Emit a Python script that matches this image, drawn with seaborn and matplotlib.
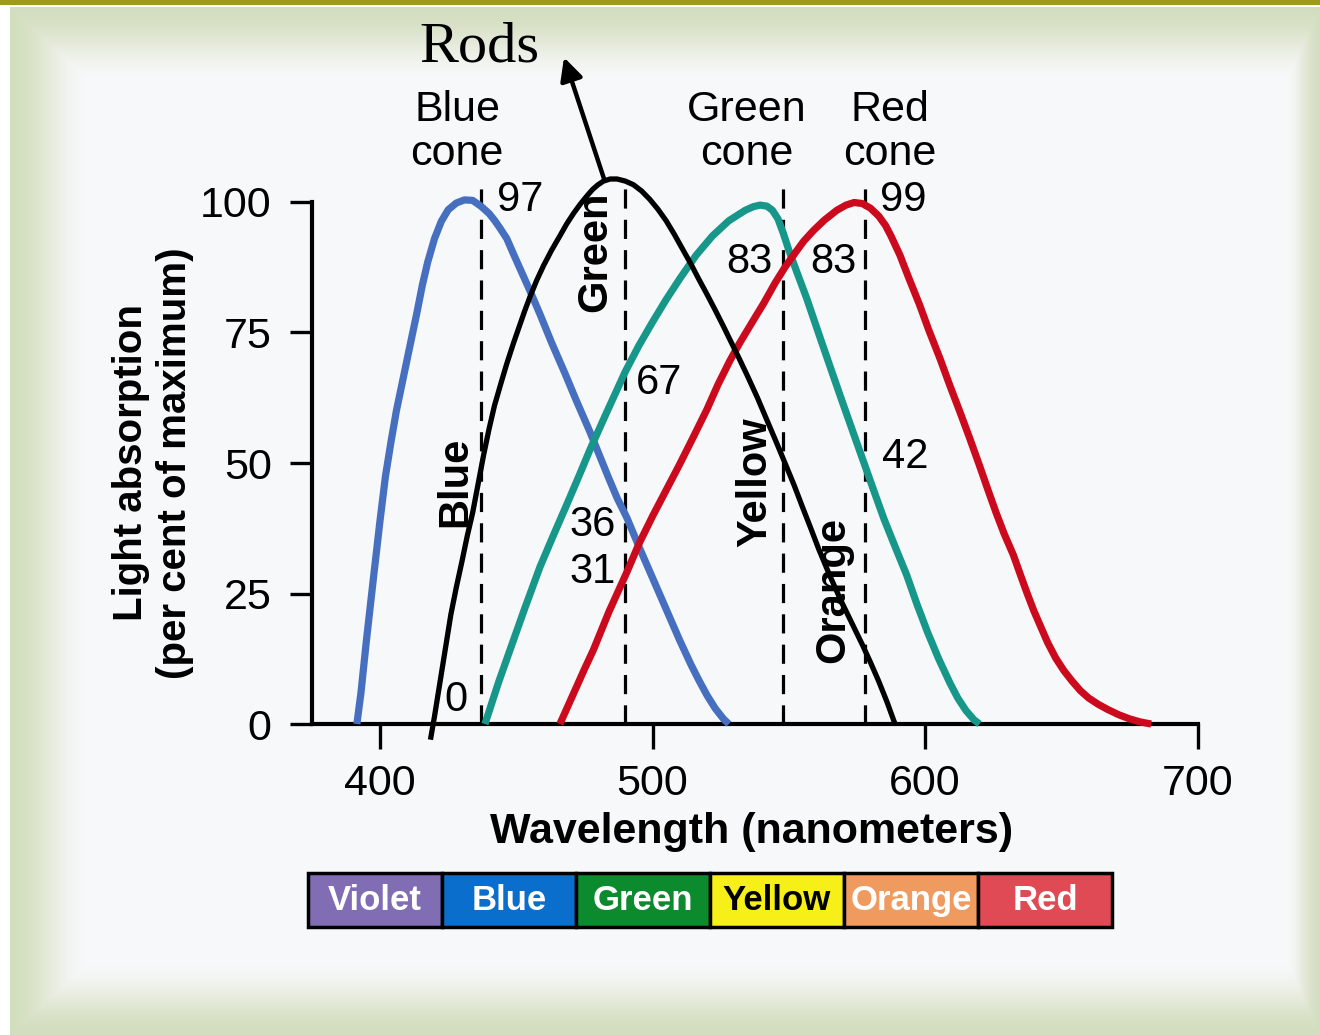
import numpy as np
import matplotlib
matplotlib.use("Agg")
import matplotlib.pyplot as plt
import seaborn as sns

# Absorption curves: wavelength (nm) vs % of maximum
blue_nm = [391.5, 393, 395, 397.5, 400, 402, 404, 406, 408.4, 411, 413.5, 415.5, 417.5, 420,
           422.5, 425, 428, 431, 434, 437, 440, 442, 444, 446.5, 449, 452, 455, 458.7, 463,
           468, 472, 477, 480.5, 484, 487, 490.6, 495, 500, 505, 510, 514, 517, 520, 523,
           526, 528]
blue_abs = [0, 6, 16, 27.6, 39, 47.5, 54, 60, 66, 72.5, 78.7, 84, 88.5, 93,
            96.3, 98.5, 99.8, 100.4, 100.3, 99.2, 97.8, 96.5, 95, 93, 90, 86.5, 83, 78.5, 73,
            67, 62, 56, 51.5, 47, 43.3, 39.5, 34, 28, 22, 16, 11.5, 8.4, 5.5, 3,
            1, 0]

green_nm = [438.5, 441, 443.5, 447.7, 453, 458.7, 463.5, 468.5, 473, 477, 483, 490, 495, 500,
            505, 510, 516, 522, 528, 534, 537, 539.5, 542, 544, 546, 548, 550, 552.3, 556.6,
            561.5, 566, 570, 574, 577.2, 581, 585, 589, 593.3, 597, 601, 605, 609.2, 612,
            615, 618, 620]
green_abs = [0, 4, 8, 14.2, 22, 30.1, 36, 42, 47.5, 52.5, 59.5, 67.5, 72.5, 77,
             81.3, 85.3, 89.8, 93.5, 96.4, 98.4, 99.1, 99.4, 99.2, 98.4, 96.8, 94, 90.8, 87.5, 81.5,
             74, 67.2, 61.2, 55.3, 50.6, 45, 39.2, 34, 28.5, 23, 17.5, 12.5, 7.8, 5,
             2.6, 0.8, 0]

red_nm = [466, 469, 472, 475, 478.3, 484, 490.5, 495, 500, 505, 510, 515, 520, 524, 528.4, 532,
          535, 538, 540.7, 545, 548.6, 552, 555.5, 559, 563, 567.6, 571, 574, 577, 580, 583,
          585.5, 587.5, 590.8, 594, 598, 601.5, 605.5, 609, 612.8, 616.5, 620, 623, 626, 629,
          632.4, 635, 637.5, 640, 642.5, 645, 648, 651, 654, 657, 660, 663.5, 667, 671, 675,
          679, 683]
red_abs = [0, 3.5, 7, 10.5, 14.2, 21.5, 29, 34.5, 39.8, 44.8, 49.8, 55, 60.3, 65, 69.6, 73,
           75.6, 78.2, 80.5, 84.5, 87.5, 90, 92.5, 94.5, 96.5, 98.4, 99.4, 99.9, 99.7, 98.8, 97.3,
           95.5, 93.5, 89.8, 85.5, 80.3, 75.3, 70, 65, 59.8, 54.6, 49.5, 45, 40.6, 36.5,
           32.4, 28.6, 25, 21.6, 18.6, 15.6, 12.6, 10.2, 8.2, 6.4, 5, 3.8, 2.8, 1.8, 1,
           0.4, 0]

rods_nm = [418.5, 420, 422, 424, 426, 428, 430, 432, 434, 436, 438, 440, 442, 444.5, 446.5,
           449, 451, 453, 455, 457.5, 460, 463, 466, 468.5, 471, 473.5, 476, 478, 480, 482,
           484.5, 487, 490, 493, 496, 499, 502, 505, 508, 511, 514, 517, 520, 523, 526, 529,
           532, 535, 538.5, 542, 545.5, 549, 552, 555, 558, 561, 565, 569, 573, 577, 580,
           583, 586, 589]
rods_abs = [-3, 1.5, 8, 14.5, 21, 26.2, 31, 36, 40.5, 46, 51.5, 56.5, 61, 65.5, 69,
            73, 76, 79, 81.8, 85, 87.8, 90.8, 93.5, 95.8, 97.8, 99.6, 101.2, 102.4, 103.3, 104,
            104.4, 104.4, 104, 103.3, 102.1, 100.5, 98.6, 96.4, 93.8, 91, 88.2, 85.2, 82.3, 79.3,
            76.2, 73, 69.8, 66.5, 62.5, 58.2, 53.9, 49.5, 45.7, 41.6, 37.6, 33.5, 28.5, 23.8,
            19.5, 15.2, 11.8, 8.2, 4.3, 0]

# dashed reference wavelengths and the values written next to them
guide_nm = [437, 490, 548, 578]
value_labels = ["97", "0", "67", "36", "31", "83", "83", "99", "42"]

# colour band under the axis
band_names = ["Violet", "Blue", "Green", "Yellow", "Orange", "Red"]
band_colors = ["#806db4", "#0a6ecd", "#0b8a2e", "#f6ef18", "#ef9b60", "#e04a55"]
band_text = ["white", "white", "white", "black", "white", "white"]

sns.set_style("ticks")
plt.rcParams["font.family"] = ["Liberation Sans", "DejaVu Sans"]
plt.rcParams["text.color"] = "black"
plt.rcParams["axes.labelcolor"] = "black"

fig = plt.figure(figsize=(13.2, 10.35), dpi=100)

# slide-like background: pale green frame fading into an off-white panel
h, w = 1035, 1320
yy, xx = np.mgrid[0:h, 0:w]
d = np.minimum.reduce([(xx - 10) / 80.0, (yy - 7) / 75.0, (h - yy) / 75.0, (w - xx) / 35.0])
t = np.clip(d, 0, 1)
t = t * t * (3 - 2 * t)
edge = np.array([0.83, 0.87, 0.75])
inner = np.array([0.97, 0.975, 0.98])
img = edge + (inner - edge) * t[..., None]
img[:, :10] = 1
img[:7, :] = 1
img[:5, :] = [0.62, 0.61, 0.1]
bg = fig.add_axes([0, 0, 1, 1])
bg.imshow(img, aspect="auto")
bg.axis("off")

ax = fig.add_axes([0.2363, 0.2601, 0.6709, 0.5952])
ax.set_facecolor("none")

ax.vlines(guide_nm, 0, 104, colors="black", linewidth=2.3, linestyles=(0, (6, 3.5)), zorder=2)

curve_kw = dict(ax=ax, solid_joinstyle="round", solid_capstyle="butt")
sns.lineplot(x=blue_nm, y=blue_abs, color="#466fbf", linewidth=5.2, zorder=3, **curve_kw)
sns.lineplot(x=green_nm, y=green_abs, color="#17968a", linewidth=5.2, zorder=3, **curve_kw)
sns.lineplot(x=red_nm, y=red_abs, color="#cc0a1e", linewidth=5.2, zorder=3, **curve_kw)
sns.lineplot(x=rods_nm, y=rods_abs, color="black", linewidth=3.8, zorder=4, **curve_kw)

ax.set_xlim(375, 700)
ax.set_ylim(-8, 110)
ax.spines["top"].set_visible(False)
ax.spines["right"].set_visible(False)
ax.spines["bottom"].set_position(("data", 0))
ax.spines["bottom"].set_bounds(375, 700)
ax.spines["left"].set_bounds(0, 100)
for s in ["bottom", "left"]:
    ax.spines[s].set_linewidth(3)
    ax.spines[s].set_color("black")

ax.set_xticks([400, 500, 600, 700])
ax.set_yticks([0, 25, 50, 75, 100])
ax.tick_params(axis="x", length=18, width=2.4, pad=11, labelsize=31, colors="black")
ax.tick_params(axis="y", length=16, width=2.4, pad=13, labelsize=31, colors="black")

ax.set_xlabel("Wavelength (nanometers)", fontsize=31, fontweight="bold")
ax.xaxis.label.set_va("center")
ax.xaxis.set_label_coords(0.497, -0.1075)
ax.set_ylabel("Light absorption\n(per cent of maximum)", fontsize=29, fontweight="bold",
              linespacing=1.2)
ax.yaxis.label.set_va("center")
ax.yaxis.set_label_coords(-0.1794, 0.4916)

# cone names above the plot
for txt, xpos in [("Blue\ncone", 428.3), ("Green\ncone", 534.7), ("Red\ncone", 587.2)]:
    ax.text(xpos, 113.4, txt, ha="center", va="center", fontsize=31, linespacing=1.1)

# values at the dashed lines
value_pos = [(442.9, 100.4, "left"), (427.9, 4.6, "center"), (494.0, 65.3, "left"),
             (469.4, 38.1, "left"), (469.4, 29.1, "left"), (543.9, 88.5, "right"),
             (557.8, 88.5, "left"), (583.5, 100.4, "left"), (584.2, 51.1, "left")]
for txt, (xp, yp, ha) in zip(value_labels, value_pos):
    ax.text(xp, yp, txt, ha=ha, va="center", fontsize=30, zorder=5)

# colour names written vertically
for txt, xp, yp in [("Blue", 427.5, 46.4), ("Green", 478.9, 90.4),
                    ("Yellow", 537.6, 46.4), ("Orange", 566.2, 25.7)]:
    ax.text(xp, yp, txt, rotation=90, ha="center", va="center", fontsize=30,
            fontweight="bold", zorder=5)

# rods label with arrow
ax.text(436.3, 129.5, "Rods", ha="center", va="center", fontsize=42,
        family=["Liberation Serif", "DejaVu Serif"])
ax.annotate("", xy=(467.2, 128.2), xytext=(482.6, 103.8),
            arrowprops=dict(arrowstyle="-|>", color="black", lw=3.2, mutation_scale=34),
            annotation_clip=False)

# colour band
cb = fig.add_axes([0.2333, 0.1043, 0.6091, 0.0522])
sns.barplot(x=band_names, y=[1] * len(band_names), hue=band_names, palette=band_colors,
            width=1, edgecolor="black", linewidth=2.5, legend=False, ax=cb, saturation=1)
for p in cb.patches:
    p.set_clip_on(False)
cb.set_xlim(-0.5, 5.5)
cb.set_ylim(0, 1)
cb.axis("off")
for i, (name, tc) in enumerate(zip(band_names, band_text)):
    cb.text(i, 0.5, name, ha="center", va="center", color=tc, fontsize=25, fontweight="bold")

fig.savefig("out.png", dpi=100)
